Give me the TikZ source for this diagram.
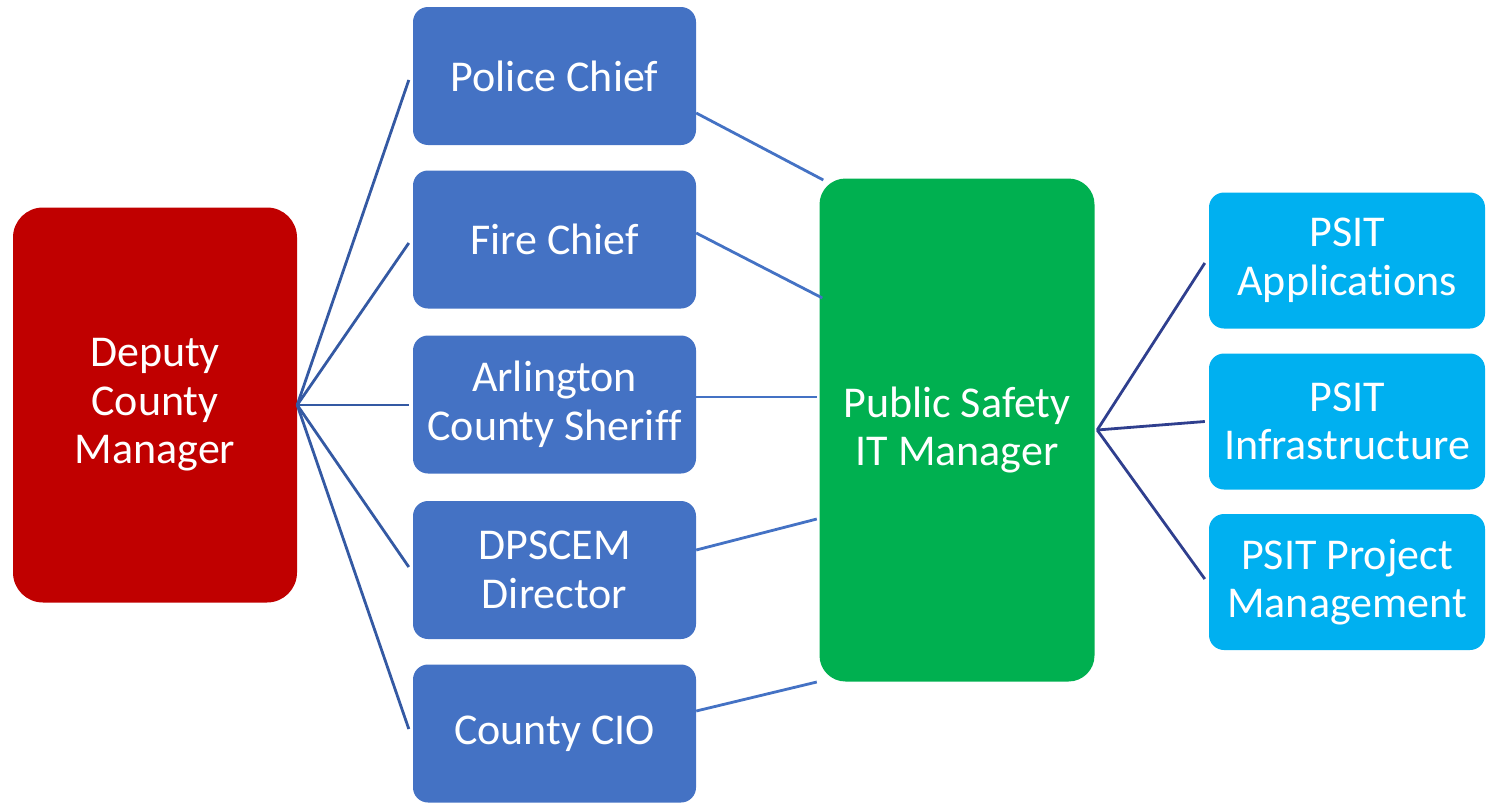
\documentclass[tikz,border=0pt]{standalone}
\usepackage{fontspec}
\setmainfont[Ligatures={NoCommon}]{Carlito}
\definecolor{cred}{HTML}{C00000}
\definecolor{cblue}{HTML}{4472C4}
\definecolor{cgreen}{HTML}{00B050}
\definecolor{clight}{HTML}{00B0F0}
\definecolor{lfan}{HTML}{3459A3}
\definecolor{lmid}{HTML}{4472C4}
\definecolor{lnavy}{HTML}{2F3F8E}
\tikzset{
  box/.style={rectangle, rounded corners=#1, inner sep=0pt, text=white, align=center,
    font=\fontsize{44}{48.5}\selectfont},
  redbox/.style={box=30pt, fill=cred, minimum width=284pt, minimum height=395pt},
  bluebox/.style={box=15pt, fill=cblue, minimum width=283pt, minimum height=138pt},
  greenbox/.style={box=26pt, fill=cgreen, minimum width=275pt, minimum height=503pt},
  lightbox/.style={box=15pt, fill=clight, minimum width=276pt, minimum height=136pt},
  fanline/.style={draw=lfan, line width=2.8pt},
  midline/.style={draw=lmid, line width=2.8pt},
  navyline/.style={draw=lnavy, line width=2.8pt},
}
\begin{document}
\begin{tikzpicture}[x=1pt,y=-1pt]
\useasboundingbox (0,0) rectangle (1493,803);
\node[redbox] (dcm) at (155,405) {Deputy\\County\\Manager};
\node[bluebox] (pc) at (554.5,76) {Police Chief};
\node[bluebox] (fc) at (554.5,239.5) {Fire Chief};
\node[bluebox] (sh) at (554.5,404.5) {Arlington\\County Sheriff};
\node[bluebox] (dp) at (554.5,570) {DPSCEM\\Director};
\node[bluebox] (cio) at (554.5,733.5) {County CIO};
\node[greenbox] (gr) at (957,430) {Public Safety\\IT Manager};
\node[lightbox] (app) at (1347,260.5) {PSIT\\Applications};
\node[lightbox] (inf) at (1347,421.5) {PSIT\\Infrastructure};
\node[lightbox] (pm) at (1347,582) {PSIT Project\\Management};
% fan from Deputy County Manager
\draw[fanline] (dcm.east) -- ([xshift=-4pt,yshift=-4pt]pc.west);
\draw[fanline] (dcm.east) -- ([xshift=-4pt,yshift=-3.5pt]fc.west);
\draw[fanline] (dcm.east) -- ([xshift=-4pt,yshift=-0.5pt]sh.west);
\draw[fanline] (dcm.east) -- ([xshift=-4pt,yshift=3pt]dp.west);
\draw[fanline] (dcm.east) -- ([xshift=-4pt,yshift=4.5pt]cio.west);
% blue boxes to green
\draw[midline] ([yshift=-37pt]pc.east) -- ([xshift=4pt,yshift=250pt]gr.west);
\draw[midline] ([yshift=6.5pt]fc.east) -- ([xshift=3pt,yshift=132pt]gr.west);
\draw[midline] ([yshift=7.5pt]sh.east) -- ([xshift=-2.5pt,yshift=33pt]gr.west);
\draw[midline] ([yshift=20pt]dp.east) -- ([xshift=-2.5pt,yshift=-89pt]gr.west);
\draw[midline] ([yshift=22.5pt]cio.east) -- ([xshift=-2.5pt,yshift=-252pt]gr.west);
% green to light blue
\draw[navyline] ([xshift=2.5pt]gr.east) -- ([xshift=-4pt,yshift=-2.5pt]app.west);
\draw[navyline] ([xshift=2.5pt]gr.east) -- ([xshift=-4pt]inf.west);
\draw[navyline] ([xshift=2.5pt]gr.east) -- ([xshift=-4pt,yshift=3pt]pm.west);
\end{tikzpicture}
\end{document}
